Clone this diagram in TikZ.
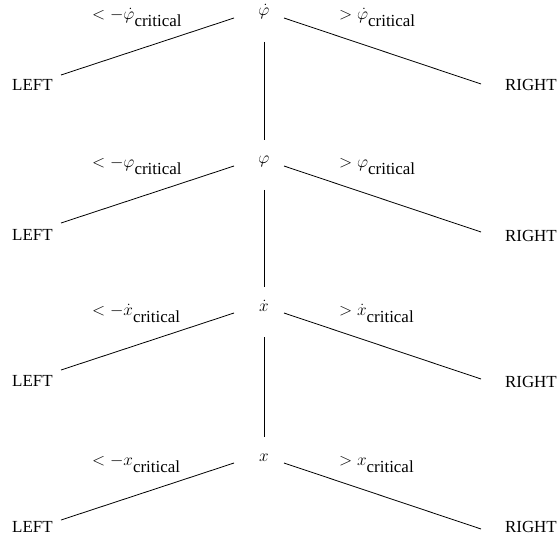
\documentclass[tikz,border=0pt]{standalone}
\usepackage{fontspec}
\setmainfont{Liberation Serif}
\usetikzlibrary{calc}
\newcommand\critsub{\raisebox{-7bp}{critical}}
\begin{document}
\begin{tikzpicture}[x=1bp,y=-1bp,
  every node/.style={font=\fontsize{17}{20}\selectfont, inner sep=0pt},
  conn/.style={line width=0.8bp},
  rootnode/.style={anchor=base},
  leftnode/.style={anchor=base west},
  rightnode/.style={anchor=base east},
  lab/.style={anchor=base west}]
\useasboundingbox (0,0) rectangle (558,544);
% level 1
\node[rootnode] (r1) at (264,16) {$\dot\varphi$};
\node[leftnode] (l1) at (12,91) {LEFT};
\node[rightnode] (g1) at (557,91) {RIGHT};
\node[lab] (a1) at (92,20) {$<-\dot\varphi$\critsub};
\node[lab] (b1) at (339,20) {$>\dot\varphi$\critsub};
% level 2
\node[rootnode] (r2) at (264,164) {$\varphi$};
\node[leftnode] (l2) at (12,240) {LEFT};
\node[rightnode] (g2) at (557,241) {RIGHT};
\node[lab] (a2) at (92,168) {$<-\varphi$\critsub};
\node[lab] (b2) at (339,168) {$>\varphi$\critsub};
% level 3
\node[rootnode] (r3) at (264,311) {$\dot x$};
\node[leftnode] (l3) at (12,386) {LEFT};
\node[rightnode] (g3) at (557,387) {RIGHT};
\node[lab] (a3) at (92,315) {$<-\dot x$\critsub};
\node[lab] (b3) at (339,315) {$>\dot x$\critsub};
% level 4
\node[rootnode] (r4) at (264,461) {$x$};
\node[leftnode] (l4) at (12,532) {LEFT};
\node[rightnode] (g4) at (557,532) {RIGHT};
\node[lab] (a4) at (92,465) {$<-x$\critsub};
\node[lab] (b4) at (339,465) {$>x$\critsub};
% connectors
\foreach \i in {1,2,3,4}{
  \draw[conn] ($(r\i.base)+(-30,2)$) -- ($(r\i.base)+(-203,59)$);
  \draw[conn] ($(r\i.base)+(20,2)$) -- ($(r\i.base)+(217,68)$);
}
\draw[conn] ($(r1.base)+(0,26)$) -- ($(r2.base)+(0,-24)$);
\draw[conn] ($(r2.base)+(0,26)$) -- ($(r3.base)+(0,-24)$);
\draw[conn] ($(r3.base)+(0,26)$) -- ($(r4.base)+(0,-24)$);
\end{tikzpicture}
\end{document}
